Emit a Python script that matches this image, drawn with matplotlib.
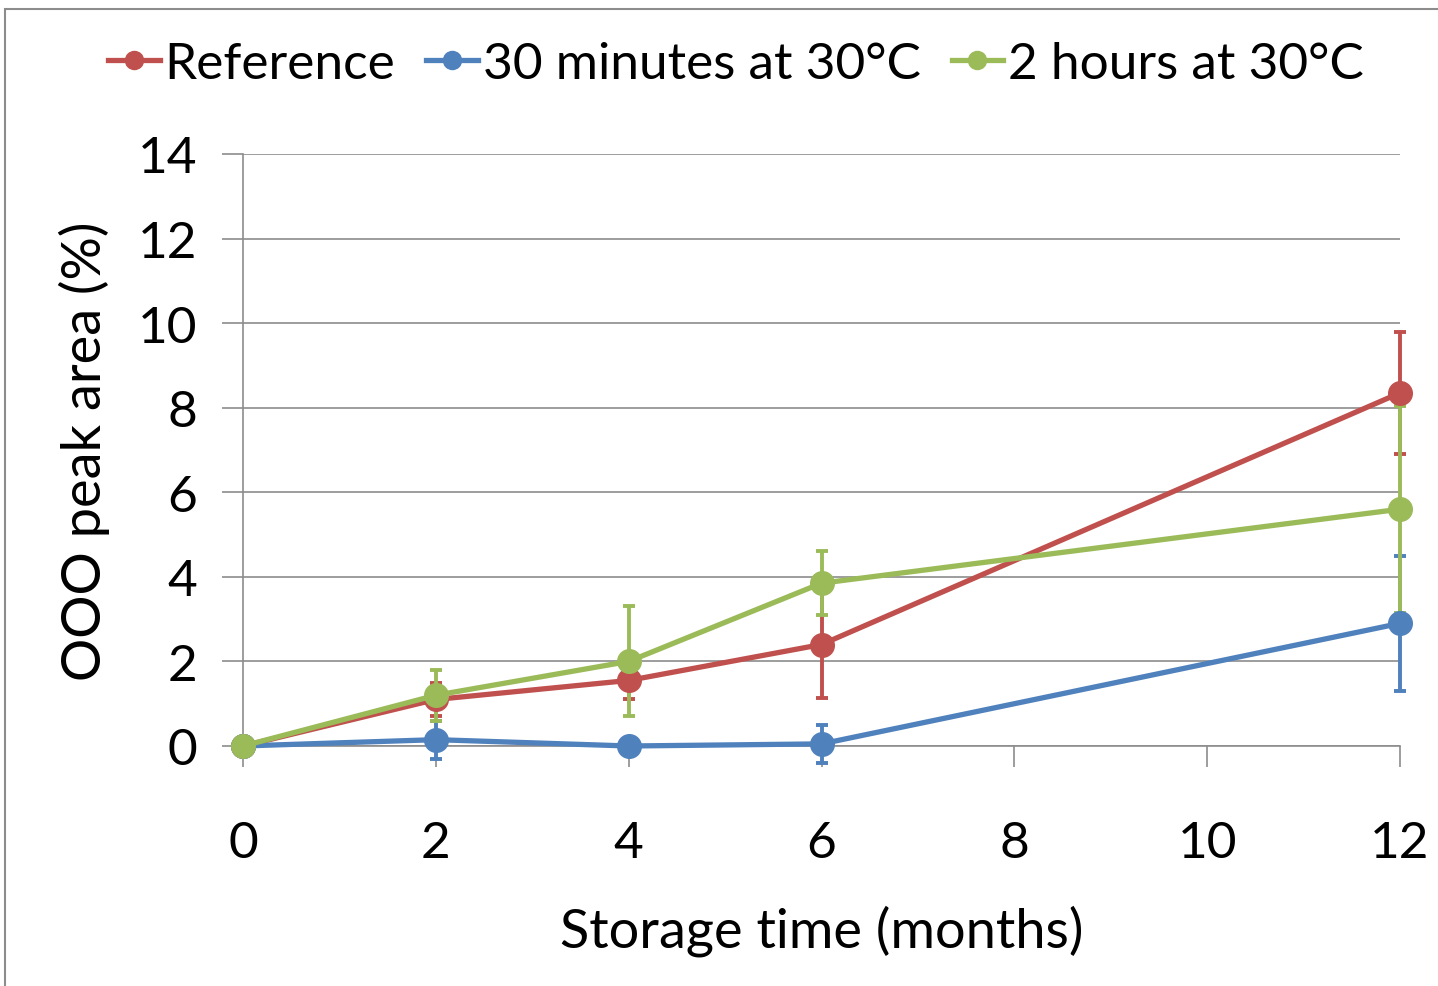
import numpy as np
import matplotlib
matplotlib.use('Agg')
import matplotlib.pyplot as plt
from matplotlib.patches import Rectangle
from matplotlib.lines import Line2D

# data
months = [0, 2, 4, 6, 12]
ref_val = [0.0, 1.1, 1.55, 2.4, 8.35]
ref_err = [0.0, 0.4, 0.45, 1.27, 1.44]
m30_val = [0.0, 0.15, 0.0, 0.05, 2.9]
m30_err = [0.0, 0.45, 0.1, 0.45, 1.6]
h2_val = [0.0, 1.2, 2.0, 3.85, 5.6]
h2_err = [0.0, 0.6, 1.3, 0.75, 2.45]

labels = ['Reference', '30 minutes at 30°C', '2 hours at 30°C']
colors = ['#C0504D', '#4F81BD', '#9BBB59']

plt.rcParams['font.family'] = ['Lato', 'DejaVu Sans']
fs = 36

fig = plt.figure(figsize=(14.38, 9.87), dpi=100)
ax = fig.add_axes([243/1438, 1-747/987, (1400-243)/1438, (747-155)/987])

# frame round the chart area
fig.patches.append(Rectangle((5/1438, -0.1), 1.1, 1-10/987+0.1, transform=fig.transFigure,
                             fill=False, edgecolor='#8c8c8c', linewidth=1.5))

series = [(ref_val, ref_err), (m30_val, m30_err), (h2_val, h2_err)]
handles = []
for (v, e), c, lab in zip(series, colors, labels):
    eb = ax.errorbar(months, v, yerr=e, color=c, lw=3.8, marker='o', ms=17,
                     elinewidth=2.8, capsize=4, capthick=2.8, clip_on=False, zorder=3)
    for art in eb.lines[1] + eb.lines[2]:
        art.set_clip_on(False)
    handles.append(Line2D([], [], color=c, lw=3.8, marker='o', ms=13, label=lab))

ax.set_xlim(0, 12)
ax.set_ylim(0, 14)
ax.set_xticks(np.arange(0, 13, 2))
ax.set_yticks(np.arange(0, 15, 2))
ax.grid(axis='y', color='#8c8c8c', lw=1.2)
ax.set_axisbelow(True)
for s in ['top', 'right']:
    ax.spines[s].set_visible(False)
for s in ['left', 'bottom']:
    ax.spines[s].set_color('#8c8c8c')
    ax.spines[s].set_linewidth(1.2)
ax.tick_params(axis='both', labelsize=fs+1, color='#8c8c8c', width=1.2, length=15, direction='out')
ax.tick_params(axis='x', pad=38)
ax.tick_params(axis='y', pad=18)

ax.set_xlabel('Storage time (months)', fontsize=fs+3, labelpad=28)
ax.set_ylabel('OOO peak area (%)', fontsize=fs+3, labelpad=20)

fig.legend(handles=handles, loc='center', bbox_to_anchor=(736/1438, 1-65/987), ncol=3, frameon=False,
           fontsize=fs+1, handlelength=1.0, handletextpad=0.1, columnspacing=0.6, borderpad=0)

fig.savefig('out.png', dpi=100)
